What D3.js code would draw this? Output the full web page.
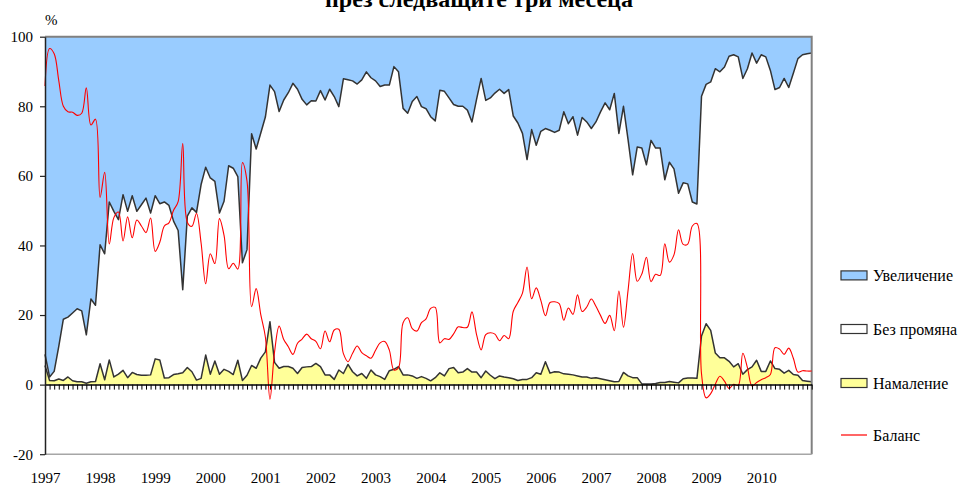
<!DOCTYPE html>
<html><head><meta charset="utf-8">
<script src="https://cdn.jsdelivr.net/npm/d3@7"></script>
<style>body{margin:0;background:#fff}svg{display:block}
svg text{font-family:"Liberation Serif","Times New Roman","DejaVu Serif",serif}</style>
</head><body>
<svg id="chart" width="961" height="485"></svg>
<script>
const years = [1997,1998,1999,2000,2001,2002,2003,2004,2005,2006,2007,2008,2009,2010];
const monthNums = ["01","02","03","04","05","06","07","08","09","10","11","12"];
const categories = years.flatMap(yr => monthNums.map(m => yr + "-" + m));
const yTicks = [-20, 0, 20, 40, 60, 80, 100];
const titleText = "през следващите три месеца";
const unitLabel = "%";

const decrease = [
5.5,1.2,1.1,1.6,1.2,2.2,1.1,0.8,0.8,0.4,0.8,0.9,
6,1.4,7.1,2.2,3,4.1,2,3.5,2.9,2.7,2.7,2.8,
7.4,7.1,1.9,2,2.9,3.1,3.4,4.9,3.7,1.3,1.8,8.5,
3,6.8,3,4.4,3.8,2.9,7,1.2,2.7,5.5,4.7,7.6,
9.4,18.1,6.4,4.7,5.2,5.2,4.7,3.2,4.9,5.1,5.2,6.1,
5.2,2.8,2.8,1.5,4.2,3.2,5.8,3.7,2.5,3.2,1.8,4.2,
2.8,2.3,1.5,4,4.4,5.2,2.8,2.8,2.5,1.8,2.3,1.8,
1.1,2,3.4,2.5,4.6,4.9,3.4,3.6,4.6,3.6,3.6,2,
3.9,2.7,1.7,2.5,2.2,2,1.7,1.2,1.5,1.5,2,3.4,
3,6.6,3.3,3.7,3.6,3.1,3,2.8,2.5,2.2,2.2,1.8,
2,1.7,1.4,1.1,0.8,0.9,3.5,2.5,2,2,0.2,0.2,
0.2,0.3,0.6,0.6,0.9,0.7,0.5,1.7,1.9,1.9,1.8,14,
17.5,15.6,9.1,7.7,7.7,6.7,5.1,6,3,4.3,5.1,7,
3.8,3.8,6.8,4.6,4.4,3.3,4.1,2.9,2.7,1.2,1,0.8];

const noChange = [
3.2,1.0,2.7,9.4,17.6,17.2,19.5,21,20.4,13.9,23.8,21.9,
34.2,36.2,45.4,47.6,44.4,50.5,47.8,50.8,46.9,49,50.9,46.5,
46.9,44.9,50.6,49.5,44.1,41.2,23.9,43.5,47.1,48.2,55.7,54,
56.4,51.6,46.3,48.3,59.1,59.3,52.8,33.8,36.1,66.6,63,64.7,
67.5,68,77.8,73.8,76.6,78.7,81.9,81.7,77.1,75.3,76.4,75.4,
79.3,79,82.1,81.3,75.7,84.7,81.8,83.6,83.9,84.4,88.1,84,
84.5,83.4,84.6,82.1,87,84.7,76.6,75.2,78.9,81,77.6,77.5,
75.9,73.8,81.2,81.8,77.8,75.6,76.6,76.4,74.3,71.9,78.4,86,
77.8,79.7,82.1,82.4,81.5,82.8,75.5,74,70.7,63.2,71.3,65.4,
69.8,67,69.8,68.8,69.5,75.3,72,74.2,69.2,74.6,73.3,71.8,
73.5,76.7,79.6,77.9,82.9,71.3,76.5,67.9,58.3,66.3,67.8,63,
70,67.7,67.4,58.3,63,61.3,54.5,56.3,55.8,50.6,50.1,68.9,
68.8,71.4,81.7,82.2,83.6,87.7,89.7,88.2,85,86.5,90.2,85.4,
91,90.4,83.5,80.2,81,84.7,81.3,86.6,91,93.6,94.1,94.5];

const increase = [
91.3,97.8,96.2,89,81.2,80.6,79.4,78.2,78.8,85.7,75.4,77.2,
59.8,62.4,47.5,50.2,52.6,45.4,50.2,45.7,50.2,48.3,46.4,50.7,
45.7,48,47.5,48.5,53,55.7,72.7,51.6,49.2,50.5,42.5,37.5,
40.6,41.6,50.7,47.3,37.1,37.8,40.2,65,61.2,27.9,32.3,27.7,
23.1,13.9,15.8,21.5,18.2,16.1,13.4,15.1,18,19.6,18.4,18.5,
15.5,18.2,15.1,17.2,20.1,12.1,12.4,12.7,13.6,12.4,10.1,11.8,
12.7,14.3,13.9,13.9,8.6,10.1,20.6,22,18.6,17.2,20.1,20.7,
23,24.2,15.4,15.7,17.6,19.5,20,20,21.1,24.5,18,12,
18.3,17.6,16.2,15.1,16.3,15.2,22.8,24.8,27.8,35.3,26.7,31.2,
27.2,26.4,26.9,27.5,26.9,21.6,25,23,28.3,23.2,24.5,26.4,
24.5,21.6,19,21,16.3,27.8,20,29.6,39.7,31.7,32,36.8,
29.8,32,32,41.1,36.1,38,45,42,42.3,47.5,48.1,17.1,
13.7,13,9.2,10.1,8.7,5.6,5.2,5.8,12,9.2,4.7,7.6,
5.2,5.8,9.7,15.2,14.6,12,14.6,10.5,6.3,5.2,4.9,4.7];

const balance = [
85.8,96.6,95.1,87.4,80,78.4,78.3,77.4,78,85.3,74.6,76.3,
53.8,61,40.4,48,49.6,41.3,48.2,42.2,47.3,45.6,43.7,47.9,
38.3,40.9,45.6,46.5,50.1,52.6,69.3,46.7,45.5,49.2,40.7,29,
37.6,34.8,47.7,42.9,33.3,34.9,33.2,63.8,58.5,22.4,27.6,20.1,
13.7,-4.2,9.4,16.8,13,10.9,8.7,11.9,13.1,14.5,13.2,12.4,
10.3,15.4,12.3,15.7,15.9,8.9,6.6,9,11.1,9.2,8.3,7.6,
9.9,12,12.4,9.9,4.2,4.9,17.8,19.2,16.1,15.4,17.8,18.9,
21.9,22.2,12,13.2,13,14.6,16.6,16.4,16.5,20.9,14.4,10,
14.4,14.9,14.5,12.6,14.1,13.2,21.1,23.6,26.3,33.8,24.7,27.8,
24.2,19.8,23.6,23.8,23.3,18.5,22,20.2,25.8,21,22.3,24.6,
22.5,19.9,17.6,19.9,15.5,26.9,16.5,27.1,37.7,29.7,31.8,36.6,
29.6,31.7,31.4,40.5,35.2,37.3,44.5,40.3,40.4,45.6,46.3,3.1,
-3.8,-2.6,0.1,2.4,1,-1.1,0.1,-0.2,9,4.9,-0.4,0.6,
1.4,2,2.9,10.6,10.2,8.7,10.5,7.6,3.6,4,3.9,3.9];

const seriesKeys = ["decrease", "noChange", "increase"];
const seriesNames = {increase: "Увеличение", noChange: "Без промяна", decrease: "Намаление", balance: "Баланс"};
const colors = {increase: "#99CCFF", noChange: "#FFFFFF", decrease: "#FFFF99", balance: "#FF0000"};

const FONT = '"Liberation Serif","Times New Roman","DejaVu Serif",serif';
const svg = d3.select("#chart");
const L = 45, R = 811.7, T = 36.7, B = 454.2;

const x = d3.scalePoint().domain(categories).range([L, R]);
const y = d3.scaleLinear().domain([-20, 100]).range([B, T]);

const table = categories.map((c, i) => ({cat: c, decrease: decrease[i], noChange: noChange[i], increase: increase[i]}));
const stacked = d3.stack().keys(seriesKeys)(table);

const area = d3.area().x(d => x(d.data.cat)).y0(d => y(d[0])).y1(d => y(d[1]));
svg.append("g").selectAll("path").data(stacked).join("path")
  .attr("d", area).attr("fill", d => colors[d.key]);

const topLine = d3.line().x(d => x(d.data.cat)).y(d => y(d[1]));
svg.append("g").selectAll("path").data(stacked.slice(0, 2)).join("path")
  .attr("d", topLine).attr("fill", "none").attr("stroke", "#333")
  .attr("stroke-width", 1.5).attr("stroke-linejoin", "round");

// plot border
svg.append("path")
  .attr("d", `M${L},${T}H${R}V${B}`)
  .attr("fill", "none").attr("stroke", "#808080").attr("stroke-width", 2);
svg.append("line").attr("x1", L).attr("x2", R).attr("y1", B).attr("y2", B)
  .attr("stroke", "#a6a6a6").attr("stroke-width", 1.5);

// balance line (smoothed)
const balLine = d3.line().curve(d3.curveCatmullRom.alpha(0.5))
  .x((d, i) => x(categories[i])).y(d => y(d));
svg.append("path").datum(balance).attr("d", balLine)
  .attr("fill", "none").attr("stroke", colors.balance).attr("stroke-width", 1.1);

// x axis (month ticks) at zero
const xAxis = svg.append("g").attr("transform", `translate(0,${y(0)})`)
  .call(d3.axisBottom(x).tickSize(5).tickSizeOuter(0).tickFormat(""));
xAxis.select(".domain").attr("stroke", "#000").attr("stroke-width", 1.5);
xAxis.selectAll(".tick line").attr("stroke", "#000");

// year labels
const yearCats = categories.filter(c => c.endsWith("-01"));
const yearAxis = svg.append("g").attr("transform", `translate(0,${B})`)
  .call(d3.axisBottom(x).tickValues(yearCats).tickSize(0).tickPadding(18.5).tickFormat(c => c.slice(0, 4)));
yearAxis.select(".domain").remove();
yearAxis.attr("font-family", null).attr("font-size", null);
yearAxis.selectAll("text").style("font-family", FONT).style("font-size", "15px").attr("fill", "#000");

// y axis
const yAxis = svg.append("g").attr("transform", `translate(${L},0)`)
  .call(d3.axisLeft(y).tickValues(yTicks).tickSize(5).tickPadding(7).tickSizeOuter(0)
    .tickFormat(d => String(d)));
yAxis.attr("font-family", null).attr("font-size", null);
yAxis.select(".domain").attr("stroke", "#222").attr("stroke-width", 1.5);
yAxis.selectAll(".tick line").attr("stroke", "#222").attr("stroke-width", 1.2);
yAxis.selectAll("text").style("font-family", FONT).style("font-size", "15px").attr("fill", "#000");

// unit label
svg.append("text").attr("x", 45).attr("y", 25).text(unitLabel)
  .style("font-family", FONT).style("font-size", "15px").attr("fill", "#000");

// title (bottom line, clipped by the top edge as in the reference)
svg.append("text").attr("x", 479).attr("y", 7).attr("text-anchor", "middle")
  .style("font-family", FONT).style("font-size", "24px").style("font-weight", "bold")
  .attr("textLength", 308).attr("lengthAdjust", "spacingAndGlyphs")
  .text(titleText);

// legend
const legendItems = ["increase", "noChange", "decrease", "balance"];
const legendY = [275.4, 329, 383, 435];
const lg = svg.append("g");
legendItems.forEach((k, i) => {
  const cy = legendY[i];
  if (k === "balance") {
    lg.append("line").attr("x1", 841).attr("x2", 867).attr("y1", cy).attr("y2", cy)
      .attr("stroke", colors.balance).attr("stroke-width", 1.2);
  } else {
    lg.append("rect").attr("x", 841).attr("y", cy - 4.5).attr("width", 26).attr("height", 9)
      .attr("fill", colors[k]).attr("stroke", "#333").attr("stroke-width", 1.2);
  }
  lg.append("text").attr("x", 873).attr("y", cy + 5.8).text(seriesNames[k])
    .style("font-family", FONT).style("font-size", "16px").attr("fill", "#000");
});
</script>
</body></html>
